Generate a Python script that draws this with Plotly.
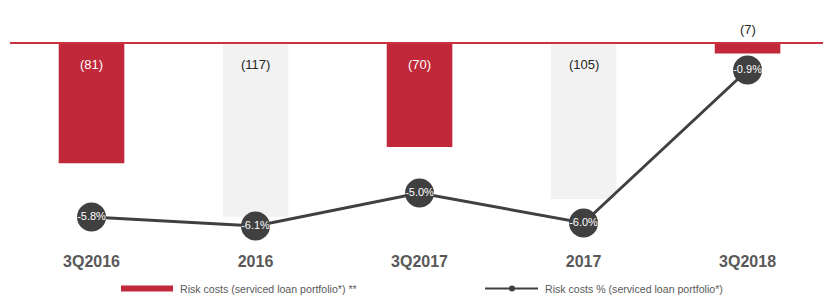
import plotly.graph_objects as go

categories = ["3Q2016", "2016", "3Q2017", "2017", "3Q2018"]
risk_costs = [-81, -117, -70, -105, -7]
risk_costs_pct = [-5.8, -6.1, -5.0, -6.0, -0.9]
bar_labels = ["(81)", "(117)", "(70)", "(105)", "(7)"]
pct_labels = ["-5.8%", "-6.1%", "-5.0%", "-6.0%", "-0.9%"]
legend_names = ["Risk costs (serviced loan portfolio*) **",
                "Risk costs % (serviced loan portfolio*)"]

RED = "#C1283A"
GRAY_BAR = "#F2F2F2"
DARK = "#404040"
W, H = 823, 295
ML, MR, MT, MB = 10, 0, 10, 45
PW, PH = W - ML - MR, H - MT - MB

bar_colors = [RED if c.startswith("3Q") else GRAY_BAR for c in categories]

fig = go.Figure()
fig.add_trace(go.Bar(
    x=categories, y=risk_costs, name=legend_names[0],
    marker=dict(color=bar_colors, line=dict(width=0)),
    width=0.4, yaxis="y", showlegend=False, hoverinfo="skip"))
fig.add_trace(go.Scatter(
    x=categories, y=risk_costs_pct, name=legend_names[1],
    mode="lines+markers+text", yaxis="y2",
    line=dict(color=DARK, width=3),
    marker=dict(color=DARK, size=29),
    text=pct_labels, textposition="middle center",
    textfont=dict(color="white", size=11, family="Liberation Sans, Arial"),
    showlegend=False, hoverinfo="skip", cliponaxis=False))

# bar value labels (x given as category index to avoid numeric parsing of "2016")
for i, (v, lab, col) in enumerate(zip(risk_costs, bar_labels, bar_colors)):
    inside = abs(v) > 20
    fig.add_annotation(
        x=i, y=0, xref="x", yref="y", text=lab, showarrow=False,
        yshift=-21 if inside else 13.5,
        font=dict(size=13, family="Liberation Sans, Arial",
                  color=("white" if col == RED else "#262626") if inside else "#262626"))

# zero line
fig.add_shape(type="line", xref="paper", yref="y", x0=0, x1=1, y0=0, y1=0,
              line=dict(color="#C8313F", width=2), layer="above")

def px(xp):
    return (xp - ML) / PW

def py(yp):
    return (MT + PH - yp) / PH

# custom legend
ly = 288.5
fig.add_shape(type="rect", xref="paper", yref="paper",
              x0=px(121), x1=px(173), y0=py(ly + 3), y1=py(ly - 3),
              fillcolor=RED, line=dict(width=0))
fig.add_annotation(xref="paper", yref="paper", x=px(178), y=py(ly),
                   xanchor="left", yanchor="middle", text=legend_names[0],
                   showarrow=False,
                   font=dict(size=10.6, color="#595959", family="Liberation Sans, Arial"))
fig.add_shape(type="line", xref="paper", yref="paper",
              x0=px(485), x1=px(538), y0=py(ly), y1=py(ly),
              line=dict(color=DARK, width=2))
fig.add_shape(type="circle", xref="paper", yref="paper",
              x0=px(509), x1=px(515), y0=py(ly + 3), y1=py(ly - 3),
              fillcolor=DARK, line=dict(width=0))
fig.add_annotation(xref="paper", yref="paper", x=px(543), y=py(ly),
                   xanchor="left", yanchor="middle", text=legend_names[1],
                   showarrow=False,
                   font=dict(size=10.6, color="#595959", family="Liberation Sans, Arial"))

zero_y = 43
bar_scale = 1.485
pct_scale = 30.0
y_top = (zero_y - MT)
y_bot = (MT + PH - zero_y)

fig.update_layout(
    width=W, height=H,
    margin=dict(l=ML, r=MR, t=MT, b=MB),
    paper_bgcolor="white", plot_bgcolor="white",
    xaxis=dict(type="category", range=[-0.497, 4.46], showgrid=False,
               zeroline=False, showline=False, ticks="",
               tickfont=dict(size=16, color="#595959",
                             family="Liberation Sans, Arial", weight="bold")),
    yaxis=dict(range=[-y_bot / bar_scale, y_top / bar_scale], visible=False,
               showgrid=False, zeroline=False),
    yaxis2=dict(range=[-y_bot / pct_scale, y_top / pct_scale], visible=False,
                overlaying="y", showgrid=False, zeroline=False),
    font=dict(family="Liberation Sans, Arial"),
)

fig.write_html("out.html", config={"displayModeBar": False},
               post_script="document.body.style.margin='0';document.body.style.overflow='hidden';")
